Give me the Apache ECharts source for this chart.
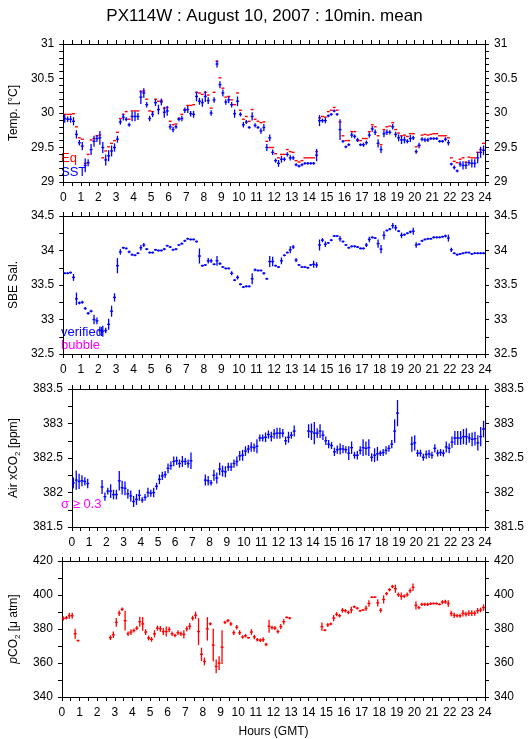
<!DOCTYPE html>
<html>
<head>
<meta charset="utf-8">
<script src="https://cdn.jsdelivr.net/npm/echarts@6/dist/echarts.min.js"></script>
<style>
  html, body { margin: 0; padding: 0; background: #fff; }
  #chart { width: 529px; height: 739px; }
</style>
</head>
<body>
<div id="chart"></div>
<script>
// 10-min means, 144 per day (index i = hour i/6)
const hourTicks = ['0','1','2','3','4','5','6','7','8','9','10','11','12','13','14','15','16','17','18','19','20','21','22','23','24']

// panel 1 : temperature
const eqTemp = [29.98,29.98,29.98,29.99,29.80,29.64,29.62,29.27,29.40,29.61,
  29.63,29.67,29.68,29.35,29.45,29.51,29.56,29.60,29.72,29.92,
  29.98,30.02,29.91,30.03,30.03,30.03,30.31,30.32,30.20,30.03,
  30.02,30.20,30.17,30.18,30.07,30.08,29.88,29.83,29.84,29.92,
  29.98,30.05,30.11,30.11,30.12,30.30,30.29,30.27,30.30,30.26,
  30.07,30.30,30.75,30.51,30.36,30.23,30.24,30.19,30.12,30.29,
  30.04,29.91,29.95,29.88,30.05,29.91,29.88,29.86,29.87,29.59,
  29.50,29.50,29.41,29.35,29.40,29.40,29.47,29.44,29.43,29.31,
  29.29,29.31,29.35,29.35,29.35,29.35,29.44,29.93,29.95,29.94,
  30.02,30.04,30.08,30.04,29.87,29.67,29.60,29.60,29.73,29.73,
  29.60,29.60,29.63,29.63,29.73,29.83,29.80,29.67,29.54,29.76,
  29.80,29.81,29.86,29.76,29.71,29.67,29.68,29.66,29.70,29.70,
  29.51,29.53,29.68,29.69,29.68,29.69,29.70,29.70,29.67,29.67,
  29.67,29.64,29.35,29.30,29.28,29.33,29.35,29.29,29.36,29.35,
  29.35,29.43,29.47,29.56]
const sst = [29.92,29.91,29.91,29.88,29.69,29.57,29.52,29.24,29.28,29.47,
  29.59,29.63,29.64,29.50,29.32,29.38,29.45,29.50,29.62,29.87,
  29.94,29.91,29.83,29.95,29.95,29.95,30.23,30.29,30.12,29.92,
  29.98,30.15,30.05,30.16,30.01,30.03,29.80,29.76,29.80,29.91,
  29.92,30.04,30.05,29.99,29.98,30.24,30.17,30.15,30.24,30.18,
  30.00,30.19,30.71,30.41,30.29,30.16,30.19,30.12,29.99,30.17,
  29.98,29.83,29.87,29.79,29.95,29.82,29.79,29.74,29.79,29.50,
  29.64,29.43,29.31,29.27,29.33,29.33,29.40,29.35,29.35,29.25,
  29.23,29.25,29.27,29.27,29.27,29.27,29.39,29.89,29.89,29.89,
  29.96,29.98,30.03,29.98,29.76,29.59,29.51,29.54,29.68,29.66,
  29.61,29.54,29.54,29.57,29.68,29.77,29.72,29.56,29.47,29.70,
  29.72,29.72,29.80,29.69,29.64,29.61,29.61,29.59,29.63,29.64,
  29.44,29.53,29.62,29.61,29.61,29.63,29.63,29.63,29.59,29.59,
  29.62,29.57,29.26,29.21,29.16,29.26,29.24,29.24,29.28,29.27,
  29.27,29.35,29.43,29.46]
const sstErr = [0.06,0.04,0.05,0.06,0.06,0.04,0.06,0.10,0.05,0.08,
  0.08,0.05,0.10,0.08,0.08,0.08,0.08,0.06,0.05,0.04,
  0.05,0.03,0.03,0.07,0.07,0.05,0.10,0.07,0.04,0.04,
  0.04,0.05,0.07,0.05,0.08,0.07,0.04,0.04,0.03,0.03,
  0.04,0.04,0.05,0.04,0.05,0.07,0.05,0.06,0.08,0.05,
  0.04,0.04,0.05,0.05,0.05,0.04,0.05,0.04,0.06,0.07,
  0.03,0.04,0.03,0.02,0.06,0.03,0.02,0.04,0.05,0.05,
  0.05,0.04,0.03,0.05,0.05,0.03,0.03,0.04,0.03,0.02,
  0.02,0.02,0.02,0.02,0.02,0.02,0.09,0.08,0.03,0.04,
  0.02,0.02,0.02,0.02,0.15,0.02,0.02,0.02,0.04,0.03,
  0.03,0.02,0.03,0.03,0.04,0.04,0.04,0.06,0.05,0.05,
  0.04,0.03,0.04,0.04,0.05,0.06,0.05,0.03,0.05,0.03,
  0.03,0.04,0.03,0.03,0.03,0.02,0.02,0.02,0.02,0.02,
  0.03,0.04,0.02,0.03,0.02,0.04,0.06,0.05,0.04,0.06,
  0.06,0.08,0.08,0.07]

// panel 2 : salinity
const salinity = [33.67,33.67,33.68,33.61,33.30,33.24,33.25,33.16,33.09,33.12,
  33.00,32.98,32.84,32.83,32.84,32.93,33.12,33.32,33.78,33.98,
  34.04,34.03,33.98,33.94,33.93,33.96,34.04,34.08,34.02,33.97,
  33.97,34.01,34.00,34.00,34.02,34.07,34.05,34.01,34.02,34.08,
  34.10,34.14,34.17,34.16,34.16,34.13,33.92,33.78,33.79,33.85,
  33.85,33.80,33.85,33.81,33.76,33.74,33.74,33.67,33.57,33.61,
  33.51,33.47,33.48,33.48,33.59,33.72,33.71,33.71,33.67,33.59,
  33.84,33.84,33.78,33.76,33.85,33.93,33.97,34.01,34.05,33.86,
  33.79,33.76,33.76,33.75,33.79,33.80,33.79,34.08,34.15,34.09,
  34.11,34.15,34.21,34.21,34.17,34.13,34.08,34.04,34.06,34.06,
  34.05,34.03,34.03,34.08,34.16,34.19,34.18,34.10,34.02,34.22,
  34.29,34.31,34.36,34.33,34.28,34.22,34.23,34.25,34.27,34.28,
  34.08,34.09,34.14,34.16,34.17,34.17,34.19,34.19,34.19,34.20,
  34.21,34.18,34.01,33.96,33.94,33.95,33.96,33.97,33.97,33.95,
  33.96,33.96,33.96,33.96]
const salErr = [0.015,0.015,0.015,0.05,0.09,0.02,0.02,0.02,0.02,0.02,
  0.07,0.05,0.06,0.08,0.04,0.08,0.08,0.06,0.11,0.04,
  0.015,0.015,0.02,0.015,0.015,0.015,0.04,0.03,0.015,0.015,
  0.015,0.015,0.015,0.015,0.015,0.015,0.015,0.015,0.015,0.015,
  0.015,0.015,0.015,0.015,0.015,0.015,0.11,0.015,0.015,0.04,
  0.03,0.015,0.07,0.02,0.015,0.015,0.015,0.03,0.015,0.03,
  0.015,0.015,0.015,0.015,0.08,0.02,0.015,0.015,0.02,0.015,
  0.08,0.07,0.015,0.015,0.05,0.015,0.015,0.05,0.03,0.03,
  0.015,0.015,0.015,0.015,0.015,0.05,0.04,0.08,0.03,0.04,
  0.015,0.015,0.015,0.015,0.04,0.015,0.015,0.015,0.015,0.015,
  0.015,0.015,0.015,0.03,0.04,0.015,0.015,0.06,0.06,0.06,
  0.015,0.015,0.04,0.04,0.015,0.04,0.015,0.015,0.02,0.05,
  0.04,0.015,0.015,0.015,0.015,0.015,0.015,0.015,0.015,0.015,
  0.02,0.05,0.03,0.015,0.015,0.015,0.015,0.015,0.015,0.015,
  0.015,0.015,0.015,0.015]

// panel 3 : atmospheric xCO2
const airCO2 = [382.14,382.18,382.16,382.17,382.16,382.13,null,null,null,null,
  382.08,381.94,382.02,382.02,381.97,381.97,382.17,382.07,382.06,381.98,
  381.95,381.87,381.90,381.96,381.89,381.93,382.00,381.99,382.00,382.09,
  382.19,382.24,382.26,382.35,382.39,382.45,382.46,382.42,382.45,382.45,
  382.42,382.46,null,null,null,null,382.18,382.17,382.14,382.25,
  382.21,382.34,382.31,382.30,382.37,382.37,382.42,382.45,382.53,382.54,
  382.60,382.63,382.66,382.65,382.67,382.79,382.79,382.80,382.84,382.81,
  382.85,382.86,382.86,382.86,382.75,382.80,382.83,382.89,null,null,
  null,null,382.89,382.88,382.86,382.86,382.89,382.83,382.75,382.70,
  382.68,382.59,382.62,382.63,382.63,382.62,382.57,382.65,382.54,382.54,
  382.61,382.65,382.64,382.65,382.51,382.54,382.56,382.57,382.58,382.61,
  382.64,382.70,382.89,383.15,null,null,null,null,382.70,382.72,
  382.57,382.57,382.51,382.55,382.56,382.54,382.64,382.57,382.58,382.57,
  382.66,382.64,382.73,382.79,382.79,382.79,382.81,382.81,382.79,382.77,
  382.78,382.72,382.81,382.92]
const airErr = [0.08,0.14,0.11,0.08,0.06,0.07,0,0,0,0,
  0.10,0.06,0.05,0.10,0.07,0.07,0.14,0.10,0.10,0.07,
  0.08,0.08,0.08,0.08,0.04,0.05,0.07,0.05,0.07,0.05,
  0.07,0.06,0.05,0.07,0.06,0.07,0.06,0.06,0.08,0.05,
  0.06,0.12,0,0,0,0,0.08,0.07,0.04,0.08,
  0.08,0.09,0.08,0.08,0.06,0.06,0.06,0.07,0.07,0.08,
  0.07,0.06,0.07,0.06,0.10,0.05,0.05,0.07,0.06,0.07,
  0.07,0.08,0.08,0.06,0.06,0.08,0.05,0.08,0,0,
  0,0,0.10,0.12,0.16,0.07,0.10,0.07,0.06,0.06,
  0.05,0.06,0.06,0.08,0.06,0.05,0.10,0.09,0.05,0.06,
  0.06,0.12,0.10,0.12,0.06,0.10,0.10,0.04,0.05,0.06,
  0.05,0.06,0.17,0.19,0,0,0,0,0.11,0.11,
  0.05,0.05,0.05,0.06,0.06,0.05,0.06,0.05,0.05,0.05,
  0.08,0.07,0.08,0.10,0.10,0.10,0.11,0.12,0.07,0.10,
  0.10,0.11,0.14,0.12]

// panel 4 : seawater pCO2
const pco2 = [386.2,386.6,387.8,387.8,377.2,373.2,null,null,null,null,
  null,null,null,null,null,null,374.9,376.6,383.9,389.3,
  391.6,384.9,377.2,378.2,379.1,380.5,384.3,383.0,378.2,374.7,
  373.9,377.2,380.5,380.1,378.5,378.5,379.7,377.2,376.2,377.8,
  377.2,376.8,380.1,381.6,386.4,388.1,378.5,365.1,360.9,380.1,
  383.0,370.5,358.0,359.9,369.3,383.9,384.9,383.0,377.8,381.0,
  377.8,375.3,376.0,374.9,378.2,375.3,373.7,373.4,373.7,370.9,
  381.6,380.8,380.5,378.5,381.4,384.3,386.8,386.4,null,null,
  null,null,null,null,null,null,null,null,381.4,379.3,
  382.4,383.0,386.4,388.7,387.8,391.0,390.7,389.7,391.2,393.1,
  392.2,390.7,391.2,392.2,395.0,398.7,398.7,395.4,391.0,397.4,
  400.8,403.1,405.0,403.7,400.2,399.3,399.3,400.2,402.5,404.5,
  393.9,392.6,394.5,394.5,394.5,394.9,395.0,395.0,394.5,395.8,
  396.0,395.0,389.1,388.1,387.8,387.8,389.3,388.7,389.3,389.3,
  389.3,390.7,391.2,392.6]
const pco2Err = [1.2,1.0,1.7,1.7,2.9,0.5,0,0,0,0,
  0,0,0,0,0,0,1.4,1.9,2.6,1.6,
  1.0,5.8,1.3,1.7,1.2,1.2,2.9,4.0,1.7,1.4,
  1.4,2.1,1.5,1.7,2.1,2.9,1.6,1.3,1.0,1.4,
  1.3,2.4,1.5,1.9,1.4,2.1,7.9,3.9,2.3,6.9,
  1.0,9.6,4.0,4.0,9.9,1.0,1.0,1.3,1.4,1.3,
  1.4,1.0,1.0,0.5,1.7,1.3,1.0,1.0,1.4,1.0,
  3.8,1.1,1.2,1.2,1.6,1.6,0.5,0.7,0,0,
  0,0,0,0,0,0,0,0,2.4,0.6,
  1.2,0.8,1.8,1.2,1.0,1.4,1.0,1.0,1.9,0.7,
  0.8,0.6,0.5,1.6,1.9,0.5,0.5,2.1,1.4,2.4,
  1.0,1.0,1.0,2.4,1.3,2.1,1.0,1.3,1.4,2.2,
  2.4,1.0,1.0,1.0,1.0,0.8,0.6,0.6,0.6,1.2,
  1.2,1.9,1.6,1.6,1.0,1.2,1.9,1.4,1.7,1.7,
  1.5,1.6,1.4,1.9]

const FONT = 'Liberation Sans, Arial, sans-serif'
const BLUE = '#0000ff'
const RED = '#ff0000'
const MAGENTA = '#ff00ff'

// panel frames (top px of each plot area)
const tops = [44, 216, 389, 561]
const H = 138

// [x, value, err] for each 10-min bin, gaps dropped
function toItems(vals, errs) {
  const out = []
  vals.forEach((v, i) => {
    if (v !== null) out.push([i / 6, v, errs ? errs[i] : 0])
  })
  return out
}

// "+" mark : horizontal bar over the bin, vertical bar = error
function crossRender(color) {
  return function (params, api) {
    const x = api.value(0), y = api.value(1), e = api.value(2)
    const a = api.coord([x, y])
    const b = api.coord([x + 1 / 6, y])
    const kids = [{
      type: 'line',
      shape: { x1: a[0], y1: a[1], x2: b[0], y2: b[1] },
      style: { stroke: color, lineWidth: 1.4 }
    }]
    if (e > 0) {
      const t = api.coord([x + 1 / 12, y + e])
      const d = api.coord([x + 1 / 12, y - e])
      const cx = (a[0] + b[0]) / 2
      kids.push({
        type: 'line',
        shape: { x1: cx, y1: t[1], x2: cx, y2: d[1] },
        style: { stroke: color, lineWidth: 1.3 }
      })
    }
    return { type: 'group', children: kids }
  }
}

function xAx(g, pos, labels, name) {
  return {
    type: 'value', gridIndex: g, position: pos, min: 0, max: 24, interval: 1,
    name: name || '', nameLocation: 'middle', nameGap: 29,
    nameTextStyle: { color: '#000', fontSize: 12, fontFamily: FONT },
    axisLine: { onZero: false, lineStyle: { color: '#000', width: 1 } },
    axisTick: { show: true, inside: false, length: 4, lineStyle: { color: '#000' } },
    minorTick: { show: true, splitNumber: 2, length: 4, lineStyle: { color: '#000' } },
    axisLabel: {
      show: labels, color: '#000', fontSize: 12, fontFamily: FONT, margin: 10,
      formatter: (v) => hourTicks[v]
    },
    splitLine: { show: false }
  }
}

function yAx(g, pos, min, max, step, minor, name) {
  return {
    type: 'value', gridIndex: g, position: pos, min: min, max: max, interval: step,
    name: name || '', nameLocation: 'middle', nameGap: 36, nameRotate: 90,
    nameTextStyle: {
      color: '#000', fontSize: 12, fontFamily: FONT,
      rich: {
        s: { fontSize: 8, verticalAlign: 'bottom', padding: [8, 0, 0, 0], fontFamily: FONT },
        i: { fontStyle: 'italic', fontSize: 12, fontFamily: FONT }
      }
    },
    axisLine: { onZero: false, lineStyle: { color: '#000', width: 1 } },
    axisTick: { show: true, inside: false, length: 4, lineStyle: { color: '#000' } },
    minorTick: { show: true, splitNumber: minor, length: 4, lineStyle: { color: '#000' } },
    axisLabel: { show: true, color: '#000', fontSize: 12, fontFamily: FONT, margin: 9 },
    splitLine: { show: false }
  }
}

const chart = echarts.init(document.getElementById('chart'))

const grids = tops.map((t) => ({ left: 58, right: 44, top: t, height: H }))

const xAxes = []
for (let g = 0; g < 4; g++) {
  xAxes.push(xAx(g, 'bottom', true, g === 3 ? 'Hours (GMT)' : ''))
  xAxes.push(xAx(g, 'top', false))
}

const yDefs = [
  [29, 31, 0.5, 5, 'Temp. [°C]'],
  [32.5, 34.5, 0.5, 2, 'SBE Sal.'],
  [381.5, 383.5, 0.5, 2, 'Air xCO{s|2} [ppm]'],
  [340, 420, 20, 2, '{i|p}CO{s|2} [μ atm]']
]
const yAxes = []
yDefs.forEach((d, g) => {
  yAxes.push(yAx(g, 'left', d[0], d[1], d[2], d[3], d[4]))
  yAxes.push(yAx(g, 'right', d[0], d[1], d[2], d[3]))
})

function crossSeries(g, vals, errs, color) {
  return {
    type: 'custom', xAxisIndex: 2 * g, yAxisIndex: 2 * g,
    renderItem: crossRender(color), clip: true,
    encode: { x: 0, y: 1 },
    data: toItems(vals, errs), silent: true
  }
}

function label(text, x, y, color) {
  return {
    type: 'text', x: x, y: y,
    style: { text: text, fill: color, font: '13px ' + FONT, verticalAlign: 'middle' }
  }
}

chart.setOption({
  animation: false,
  title: {
    text: 'PX114W : August 10, 2007 : 10min. mean',
    left: 'center', top: 3,
    textStyle: { fontSize: 17, fontWeight: 'normal', color: '#000', fontFamily: FONT }
  },
  grid: grids,
  xAxis: xAxes,
  yAxis: yAxes,
  series: [
    crossSeries(0, eqTemp, null, RED),
    crossSeries(0, sst, sstErr, BLUE),
    crossSeries(1, salinity, salErr, BLUE),
    crossSeries(2, airCO2, airErr, BLUE),
    crossSeries(3, pco2, pco2Err, RED)
  ],
  graphic: [
    label('Eq', 61, 158, RED),
    label('SST', 61, 172, BLUE),
    label('verified', 61, 332, BLUE),
    label('bubble', 61, 345, MAGENTA),
    label('σ ≥ 0.3', 61, 504, MAGENTA)
  ]
})
</script>
</body>
</html>
